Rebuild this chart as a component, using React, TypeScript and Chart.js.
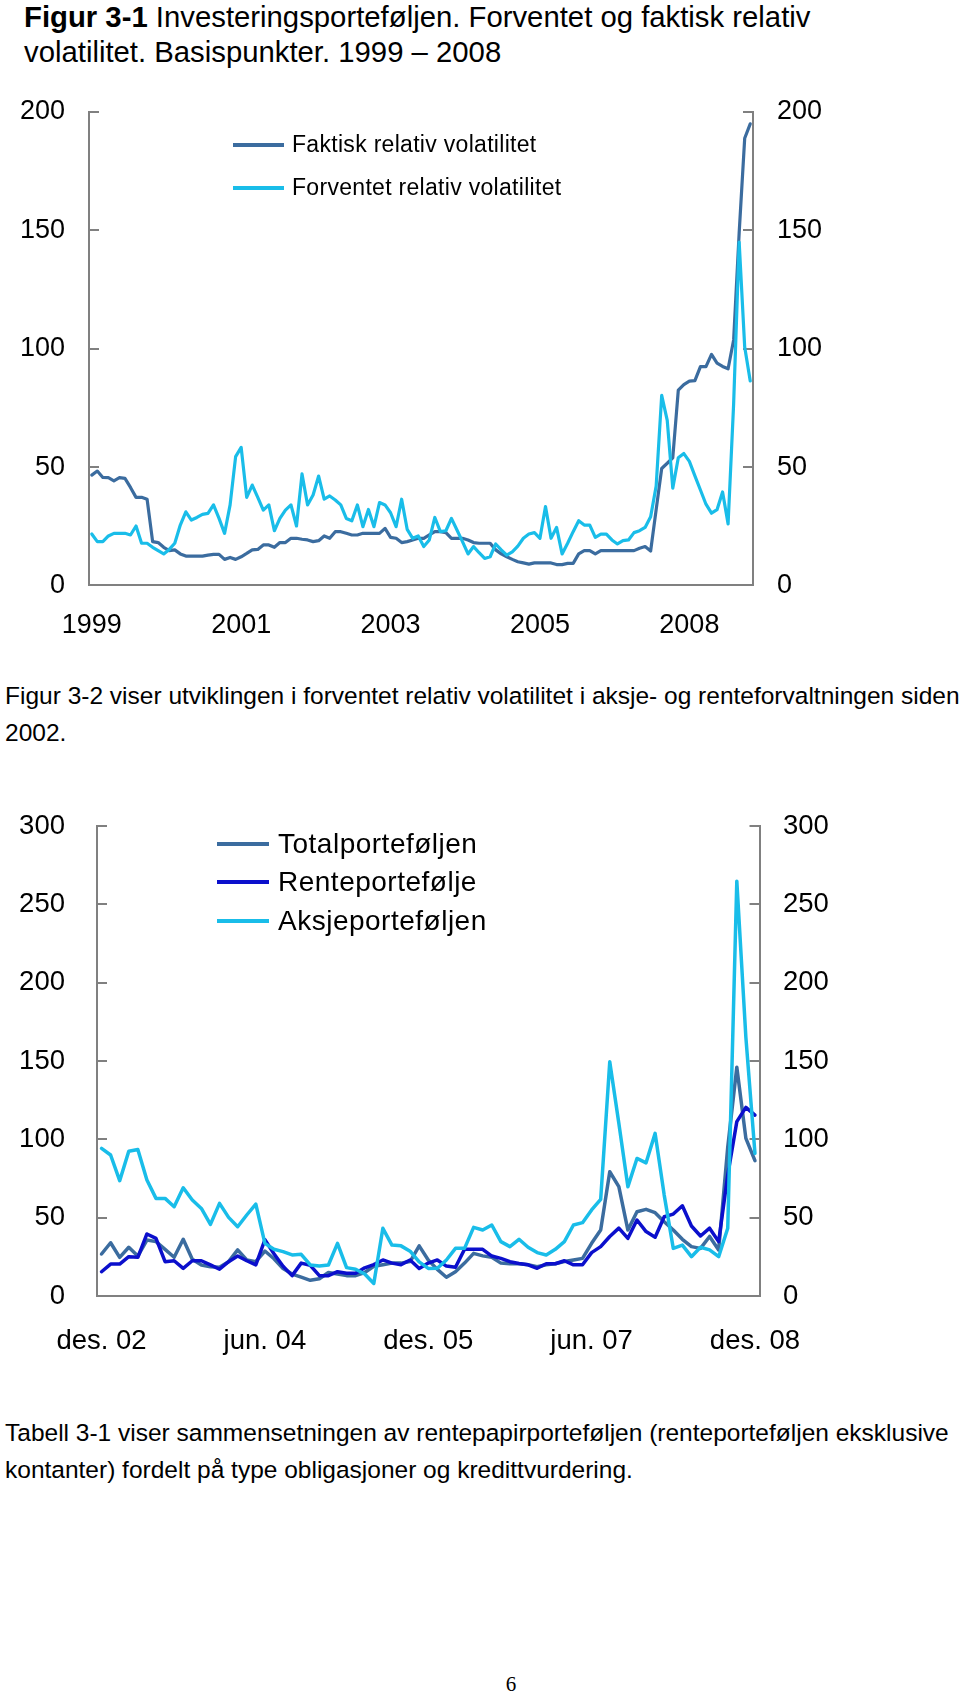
import React, { useEffect, useRef } from 'react';
import { Chart, registerables } from 'chart.js';

Chart.register(...registerables);

const FONT = '"Liberation Sans", Arial, Helvetica, sans-serif';
const AXIS_GRAY = '#808080';
const COLOR_STEEL = '#3b6c9f';
const COLOR_CYAN = '#19bde9';
const COLOR_NAVY = '#0b0fcc';

function monthCategories(startYear: number, startMonth: number, count: number): string[] {
  const out: string[] = [];
  let y = startYear;
  let m = startMonth;
  for (let i = 0; i < count; i++) {
    out.push(`${y}-${String(m).padStart(2, '0')}`);
    m += 1;
    if (m > 12) { m = 1; y += 1; }
  }
  return out;
}

// ---------- Figure 3-1 ----------
const categories1 = monthCategories(1999, 1, 120);
const faktisk = [
  46.6, 48.3, 45.6, 45.5, 44.2, 45.5, 45.2, 41.4, 37.2, 37.2,
  36.4, 18.5, 18.1, 16.1, 14.7, 15, 13.3, 12.4, 12.4, 12.4,
  12.4, 12.8, 13.1, 13.1, 11, 11.8, 11, 12.1, 13.5, 15,
  15.2, 17.1, 17.1, 16.1, 18.1, 18.1, 19.9, 19.9, 19.5, 19.2,
  18.5, 18.9, 20.9, 19.9, 22.7, 22.7, 22, 21.3, 21.3, 22,
  22, 22, 22, 24.1, 20.3, 19.9, 18.1, 18.5, 19.2, 19.9,
  19.9, 21.3, 22.7, 22.7, 22.3, 19.9, 19.9, 19.9, 19.2, 18.1,
  17.8, 17.8, 17.8, 15, 13.3, 12.1, 11, 10, 9.5, 9,
  9.5, 9.5, 9.5, 9.5, 8.8, 8.8, 9.3, 9.3, 13.3, 14.7,
  14.7, 13.3, 14.7, 14.7, 14.7, 14.7, 14.7, 14.7, 14.7, 15.7,
  16.4, 14.5, 32, 49.4, 51.6, 53.9, 82.5, 84.8, 86.3, 86.5,
  92.4, 92.4, 97.6, 93.9, 92.5, 91.5, 103.7, 148.9, 188.9, 195,
];
const forventet = [
  21.7, 18.5, 18.5, 20.9, 22, 22, 22, 21.3, 25.1, 17.8,
  17.8, 16.1, 14.7, 13.3, 15.2, 17.8, 25.5, 31.1, 27.6, 28.7,
  30, 30.4, 34, 28.3, 22, 34, 54.4, 58.3, 37.2, 42.4,
  37.2, 31.8, 34, 23.1, 28.3, 31.8, 34, 25.1, 47.1, 34,
  38.2, 46.2, 36.4, 37.8, 36.1, 34, 28.3, 27.3, 34, 24.8,
  32.1, 24.8, 35, 34, 30.7, 24.8, 36.4, 23.7, 19.9, 20.9,
  16.4, 19.2, 28.7, 22.7, 23.1, 28.3, 23.4, 18.5, 13.3, 16.4,
  13.8, 11.4, 12.1, 17.5, 15, 12.8, 14.2, 16.6, 19.9, 21.7,
  22.3, 19.9, 33.3, 19.9, 24.5, 13.3, 17.8, 22.7, 27.3, 25.5,
  25.5, 20.3, 21.7, 21.7, 19.2, 17.5, 18.9, 19.2, 22.3, 23.1,
  24.5, 29, 42, 80.3, 69.7, 41.1, 53.9, 55.7, 52.4, 46.3,
  40.3, 34.3, 30.5, 32, 39.5, 26, 76.7, 145, 100.7, 86.4,
];
const xTickCats1 = ['1999-01', '2001-04', '2003-07', '2005-10', '2008-01'];
const xTickLabels1 = ['1999', '2001', '2003', '2005', '2008'];
const legend1 = ['Faktisk relativ volatilitet', 'Forventet relativ volatilitet'];

// ---------- Figure 3-2 ----------
const categories2 = monthCategories(2002, 12, 73);
const totalportefoljen = [
  26.8, 34, 24.7, 31.1, 25.5, 35.7, 34.7, 29.8, 24.7, 36.2,
  23.4, 19.8, 18.7, 18.3, 21.9, 29.4, 23, 21.9, 28.7, 23.8,
  17.5, 14, 12, 10, 11, 15, 14, 13, 13, 15,
  19, 20, 21, 21, 22, 32, 23, 17, 12, 15.5,
  21, 27.2, 25.6, 24.7, 21, 20.6, 20.6, 19.9, 18.7, 19.9,
  20.6, 22, 23, 24, 33.6, 42.1, 79.3, 69.8, 42.1, 53.8,
  55.3, 53.2, 47.4, 42.1, 36.2, 31.5, 30.4, 38, 29.4, 95,
  146, 100.6, 86.4,
];
const renteportefolje = [
  15.5, 20.4, 20.4, 25.1, 24.7, 39.6, 36.8, 21.9, 22.5, 17.6,
  22.5, 22.5, 19.9, 17.1, 21.9, 25.5, 22.5, 19.9, 35.9, 27,
  19, 13, 21, 19.6, 13, 13, 15.5, 14.5, 14.5, 18,
  20, 23, 21, 20, 23, 17.6, 21, 23, 19.1, 18.3,
  29.8, 29.8, 29.8, 25.5, 24, 21.9, 20.8, 19.9, 17.7, 20.6,
  20.6, 22.5, 19.9, 19.9, 27.7, 31.5, 38, 43.3, 36.8, 48.5,
  41.1, 37.5, 50.6, 52.3, 57.6, 44.7, 38.3, 43.3, 34.7, 77.2,
  111.3, 120.4, 115.5,
];
const aksjeportefoljen = [
  94.2, 90, 73.6, 92.4, 93.5, 74, 62.3, 62.3, 57, 69.1,
  61.3, 55.9, 45.7, 59.1, 50.2, 44.2, 51.7, 58.7, 33.6, 29.8,
  28.3, 26.2, 26.6, 19.8, 19.2, 19.8, 33.6, 18.1, 17.1, 14,
  8, 43.2, 32.5, 32, 28.6, 21.8, 17.6, 17.7, 23, 30.4,
  30.4, 43.8, 42.1, 45.3, 34.7, 31.5, 36.2, 31.1, 27.7, 26.2,
  29.8, 34.7, 45.3, 46.8, 54.9, 61.7, 149.5, 110.2, 69.8, 87.8,
  85, 103.8, 64.4, 30.4, 32.5, 25.1, 31.1, 29.4, 25.1, 43.2,
  264.8, 165, 91,
];
const xTickCats2 = ['2002-12', '2004-06', '2005-12', '2007-06', '2008-12'];
const xTickLabels2 = ['des. 02', 'jun. 04', 'des. 05', 'jun. 07', 'des. 08'];
const legend2 = ['Totalporteføljen', 'Renteportefølje', 'Aksjeporteføljen'];

type AxisSpec = {
  max: number;
  leftWidth: number;
  rightWidth: number;
  xHeight: number;
  padTop: number;
  leftPad: number;
  rightPad: number;
  xPad: number;
  fontSize: number;
  tickCats: string[];
  tickLabels: string[];
};

function makeConfig(categories: string[], datasets: any[], a: AxisSpec): any {
  const tickFont = { family: FONT, size: a.fontSize };
  const yCommon = (pos: 'left' | 'right', width: number, pad: number) => ({
    type: 'linear',
    position: pos,
    min: 0,
    max: a.max,
    ticks: { stepSize: 50, padding: pad, font: tickFont, color: '#000' },
    grid: {
      display: true,
      drawOnChartArea: false,
      drawTicks: true,
      tickLength: -10,
      color: AXIS_GRAY,
      lineWidth: 2,
    },
    border: { display: true, color: AXIS_GRAY, width: 2 },
    afterFit: (s: any) => {
      s.width = width;
      s.paddingTop = 0;
      s.paddingBottom = 0;
    },
  });
  return {
    type: 'line',
    data: { labels: categories, datasets },
    options: {
      responsive: false,
      animation: false,
      devicePixelRatio: 1,
      layout: { autoPadding: false, padding: { top: a.padTop, left: 0, right: 0, bottom: 0 } },
      plugins: { legend: { display: false }, tooltip: { enabled: false } },
      elements: { point: { radius: 0 }, line: { tension: 0, borderJoinStyle: 'round', borderCapStyle: 'round' } },
      scales: {
        x: {
          type: 'category',
          offset: true,
          grid: { display: false, drawTicks: false },
          border: { display: true, color: AXIS_GRAY, width: 2 },
          ticks: {
            autoSkip: false,
            maxRotation: 0,
            minRotation: 0,
            padding: a.xPad,
            font: tickFont,
            color: '#000',
            callback: (_v: any, i: number) => {
              const k = a.tickCats.indexOf(categories[i]);
              return k >= 0 ? a.tickLabels[k] : '';
            },
          },
          afterFit: (s: any) => {
            s.height = a.xHeight;
            s.paddingLeft = 0;
            s.paddingRight = 0;
          },
        },
        y: yCommon('left', a.leftWidth, a.leftPad),
        y2: yCommon('right', a.rightWidth, a.rightPad),
      },
    },
  };
}

function ChartCanvas({ top, height, build }: { top: number; height: number; build: () => any }) {
  const ref = useRef<HTMLCanvasElement | null>(null);
  useEffect(() => {
    if (!ref.current) return;
    const chart = new Chart(ref.current, build());
    return () => chart.destroy();
  }, []);
  return (
    <canvas
      ref={ref}
      width={960}
      height={height}
      style={{ position: 'absolute', left: 0, top, width: 960, height }}
    />
  );
}

function LegendRow({ x1, x2, textX, y, color, text, size, thick, spacing }: any) {
  return (
    <>
      <div style={{ position: 'absolute', left: x1, top: y - thick / 2, width: x2 - x1, height: thick, background: color }} />
      <div style={{ position: 'absolute', left: textX, top: y - size * 0.6, height: size * 1.2, lineHeight: `${size * 1.2}px`, fontSize: size, letterSpacing: spacing || 0, whiteSpace: 'nowrap' }}>
        {text}
      </div>
    </>
  );
}

export default function App() {
  const lineW1 = 3.2;
  const lineW2 = 3.5;
  const build1 = () =>
    makeConfig(
      categories1,
      [
        { label: legend1[1], data: forventet, borderColor: COLOR_CYAN, borderWidth: lineW1, yAxisID: 'y' },
        { label: legend1[0], data: faktisk, borderColor: COLOR_STEEL, borderWidth: lineW1, yAxisID: 'y' },
      ],
      {
        max: 200, leftWidth: 89, rightWidth: 207, xHeight: 64.6, padTop: 22,
        leftPad: 34, rightPad: 34, xPad: 24.4, fontSize: 27,
        tickCats: xTickCats1, tickLabels: xTickLabels1,
      }
    );
  const build2 = () =>
    makeConfig(
      categories2,
      [
        { label: legend2[2], data: aksjeportefoljen, borderColor: COLOR_CYAN, borderWidth: lineW2, yAxisID: 'y' },
        { label: legend2[1], data: renteportefolje, borderColor: COLOR_NAVY, borderWidth: lineW2, yAxisID: 'y' },
        { label: legend2[0], data: totalportefoljen, borderColor: COLOR_STEEL, borderWidth: lineW2, yAxisID: 'y' },
      ],
      {
        max: 300, leftWidth: 97, rightWidth: 200.5, xHeight: 74, padTop: 26,
        leftPad: 42, rightPad: 33.5, xPad: 28.5, fontSize: 27.5,
        tickCats: xTickCats2, tickLabels: xTickLabels2,
      }
    );

  const bodyText: React.CSSProperties = { position: 'absolute', left: 5, fontSize: 24.5, lineHeight: '37px', whiteSpace: 'nowrap' };

  return (
    <div style={{ position: 'absolute', left: 0, top: 0, width: 960, height: 1695, background: '#fff', fontFamily: FONT, color: '#000', overflow: 'hidden' }}>
      <div style={{ position: 'absolute', left: 24, top: -1.5, fontSize: 29.3, lineHeight: '35px', whiteSpace: 'nowrap' }}>
        <div><b>Figur 3-1</b> Investeringsporteføljen. Forventet og faktisk relativ</div>
        <div>volatilitet. Basispunkter. 1999 – 2008</div>
      </div>

      <ChartCanvas top={90} height={560} build={build1} />
      <LegendRow x1={233} x2={284} textX={292} y={145} color={COLOR_STEEL} text={legend1[0]} size={23} thick={3.5} spacing={0.3} />
      <LegendRow x1={233} x2={284} textX={292} y={188} color={COLOR_CYAN} text={legend1[1]} size={23} thick={3.5} spacing={0.3} />

      <div style={{ ...bodyText, top: 677 }}>
        <div>Figur 3-2 viser utviklingen i forventet relativ volatilitet i aksje- og renteforvaltningen siden</div>
        <div>2002.</div>
      </div>

      <ChartCanvas top={800} height={570} build={build2} />
      <LegendRow x1={217} x2={269} textX={278} y={844} color={COLOR_STEEL} text={legend2[0]} size={28} thick={4} spacing={0.5} />
      <LegendRow x1={217} x2={269} textX={278} y={882} color={COLOR_NAVY} text={legend2[1]} size={28} thick={4} spacing={0.5} />
      <LegendRow x1={217} x2={269} textX={278} y={921} color={COLOR_CYAN} text={legend2[2]} size={28} thick={4} spacing={0.5} />

      <div style={{ ...bodyText, top: 1414 }}>
        <div>Tabell 3-1 viser sammensetningen av rentepapirporteføljen (renteporteføljen eksklusive</div>
        <div>kontanter) fordelt på type obligasjoner og kredittvurdering.</div>
      </div>

      <div style={{ position: 'absolute', left: 0, width: 1022, top: 1671, textAlign: 'center', fontFamily: '"Liberation Serif", "Times New Roman", serif', fontSize: 21, lineHeight: '26px' }}>
        6
      </div>
    </div>
  );
}
